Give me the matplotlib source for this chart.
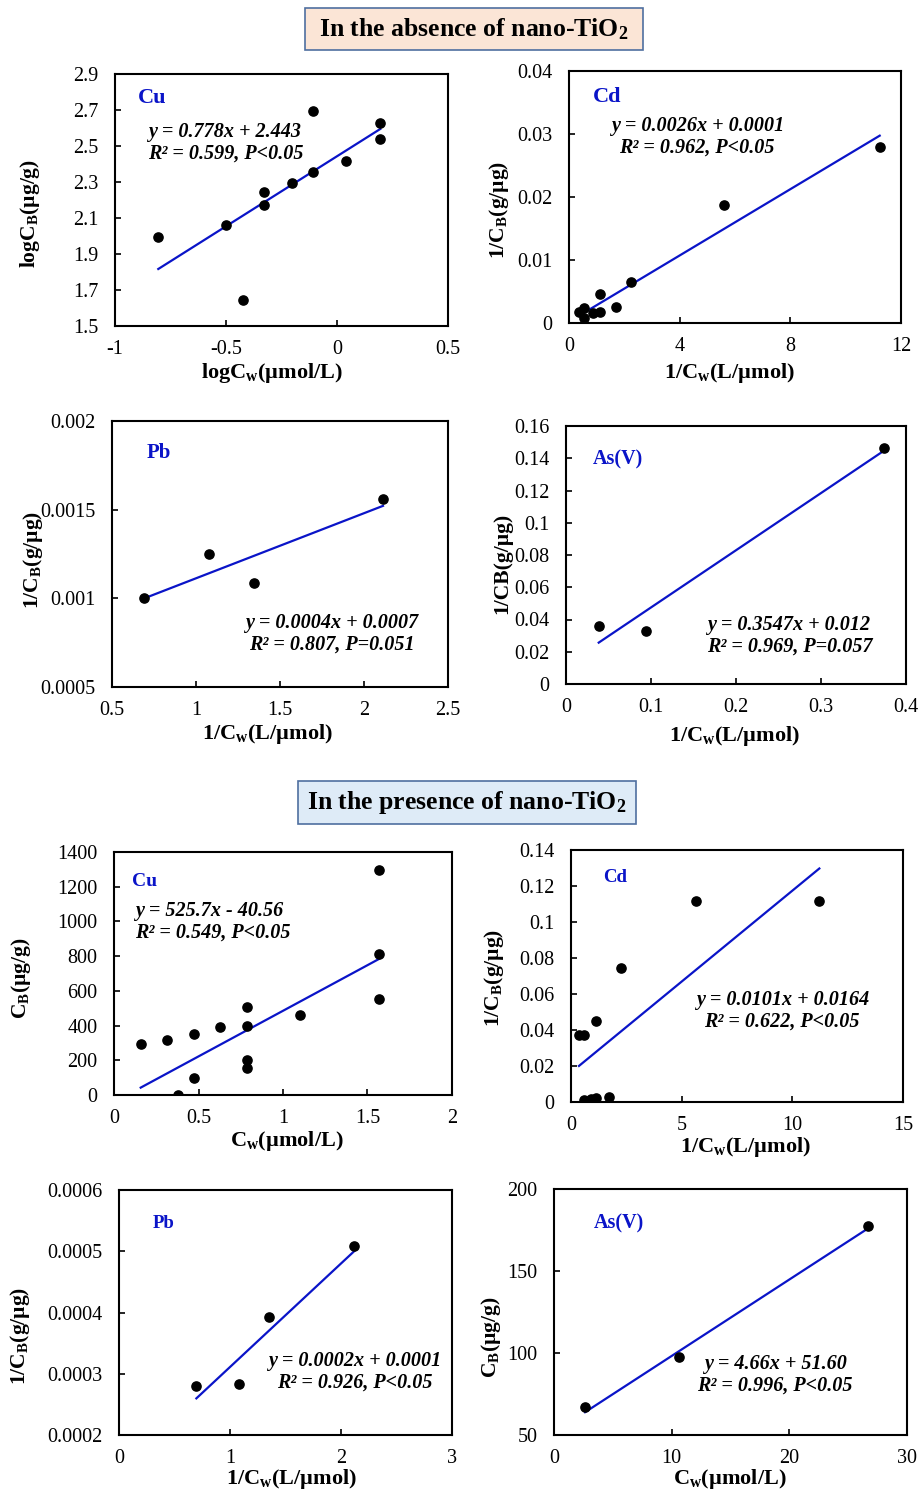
import matplotlib
matplotlib.use("Agg")
import matplotlib.pyplot as plt
import numpy as np
from matplotlib.patches import Rectangle

plt.rcParams['font.family'] = ['Liberation Serif', 'DejaVu Serif']
plt.rcParams['mathtext.fontset'] = 'custom'
plt.rcParams['mathtext.rm'] = 'Liberation Serif'
plt.rcParams['mathtext.bf'] = 'Liberation Serif:bold'
plt.rcParams['mathtext.it'] = 'Liberation Serif:italic'

# ---------------- data ----------------
# Absence of nano-TiO2
cu_abs_x = [-0.805, -0.502, -0.424, -0.328, -0.328, -0.202, -0.106, -0.106, 0.040, 0.195, 0.195]
cu_abs_y = [1.995, 2.062, 1.645, 2.244, 2.173, 2.292, 2.694, 2.353, 2.418, 2.629, 2.537]
cd_abs_x = [11.23, 5.61, 2.24, 1.13, 1.70, 1.13, 0.88, 0.55, 0.36, 0.55]
cd_abs_y = [0.0280, 0.0187, 0.0065, 0.0046, 0.0025, 0.00174, 0.0016, 0.0024, 0.0017, 0.0008]
pb_abs_x = [0.688, 1.077, 1.343, 2.113]
pb_abs_y = [0.0010, 0.001249, 0.001089, 0.001561]
as_abs_x = [0.0385, 0.0942, 0.3745]
as_abs_y = [0.0357, 0.0330, 0.1466]
# Presence of nano-TiO2
cu_pre_x = [0.158, 0.316, 0.473, 0.473, 0.381, 0.629, 0.785, 0.785, 0.785, 0.785, 1.099, 1.568, 1.568, 1.568]
cu_pre_y = [293, 318, 350, 100, 0, 389, 509, 400, 203, 153, 462, 1297, 814, 554]
cd_pre_x = [0.36, 0.60, 1.13, 2.24, 5.63, 11.22, 0.60, 0.90, 1.13, 1.73]
cd_pre_y = [0.0374, 0.0374, 0.0448, 0.0745, 0.1117, 0.1117, 0.0009, 0.0015, 0.0020, 0.0026]
pb_pre_x = [0.697, 1.081, 1.348, 2.12]
pb_pre_y = [0.00028, 0.000284, 0.000392, 0.000508]
as_pre_x = [2.64, 10.63, 26.65]
as_pre_y = [66.9, 97.6, 177.2]

# trend-line coefficients (slope, intercept) as drawn
fit_slopes = [0.778, 0.00263, 0.000367, 0.3547, 525.7, 0.0101, 0.000169, 4.66]
fit_intercepts = [2.443, 0.0002, 0.000746, 0.012, -40.56, 0.0164, 0.000142, 51.60]

element_labels = ['Cu', 'Cd', 'Pb', 'As(V)', 'Cu', 'Cd', 'Pb', 'As(V)']
eq_line1 = ['y = 0.778x + 2.443', 'y = 0.0026x + 0.0001', 'y = 0.0004x + 0.0007',
            'y = 0.3547x + 0.012', 'y = 525.7x - 40.56', 'y = 0.0101x + 0.0164',
            'y = 0.0002x + 0.0001', 'y = 4.66x + 51.60']
eq_line2 = ['R² = 0.599, P<0.05', 'R² = 0.962, P<0.05', 'R² = 0.807, P=0.051',
            'R² = 0.969, P=0.057', 'R² = 0.549, P<0.05', 'R² = 0.622, P<0.05',
            'R² = 0.926, P<0.05', 'R² = 0.996, P<0.05']
xlabels = [r'log$\mathbf{C_w}$(µmol/L)', r'1/$\mathbf{C_w}$(L/µmol)', r'1/$\mathbf{C_w}$(L/µmol)',
           r'1/$\mathbf{C_w}$(L/µmol)', r'$\mathbf{C_w}$(µmol/L)', r'1/$\mathbf{C_w}$(L/µmol)',
           r'1/$\mathbf{C_w}$(L/µmol)', r'$\mathbf{C_w}$(µmol/L)']
ylabels = [r'log$\mathbf{C_B}$(µg/g)', r'1/$\mathbf{C_B}$(g/µg)', r'1/$\mathbf{C_B}$(g/µg)',
           '1/CB(g/µg)', r'$\mathbf{C_B}$(µg/g)', r'1/$\mathbf{C_B}$(g/µg)',
           r'1/$\mathbf{C_B}$(g/µg)', r'$\mathbf{C_B}$(µg/g)']
xticks_list = [[-1, -0.5, 0, 0.5], [0, 4, 8, 12], [0.5, 1, 1.5, 2, 2.5], [0, 0.1, 0.2, 0.3, 0.4],
               [0, 0.5, 1, 1.5, 2], [0, 5, 10, 15], [0, 1, 2, 3], [0, 10, 20, 30]]
xticklabels_list = [['-1', '-0.5', '0', '0.5'], ['0', '4', '8', '12'], ['0.5', '1', '1.5', '2', '2.5'],
                    ['0', '0.1', '0.2', '0.3', '0.4'], ['0', '0.5', '1', '1.5', '2'],
                    ['0', '5', '10', '15'], ['0', '1', '2', '3'], ['0', '10', '20', '30']]
yticks_list = [[1.5, 1.7, 1.9, 2.1, 2.3, 2.5, 2.7, 2.9], [0, 0.01, 0.02, 0.03, 0.04],
               [0.0005, 0.001, 0.0015, 0.002], [0, 0.02, 0.04, 0.06, 0.08, 0.1, 0.12, 0.14, 0.16],
               [0, 200, 400, 600, 800, 1000, 1200, 1400], [0, 0.02, 0.04, 0.06, 0.08, 0.1, 0.12, 0.14],
               [0.0002, 0.0003, 0.0004, 0.0005, 0.0006], [50, 100, 150, 200]]
yticklabels_list = [['1.5', '1.7', '1.9', '2.1', '2.3', '2.5', '2.7', '2.9'],
                    ['0', '0.01', '0.02', '0.03', '0.04'],
                    ['0.0005', '0.001', '0.0015', '0.002'],
                    ['0', '0.02', '0.04', '0.06', '0.08', '0.1', '0.12', '0.14', '0.16'],
                    ['0', '200', '400', '600', '800', '1000', '1200', '1400'],
                    ['0', '0.02', '0.04', '0.06', '0.08', '0.1', '0.12', '0.14'],
                    ['0.0002', '0.0003', '0.0004', '0.0005', '0.0006'],
                    ['50', '100', '150', '200']]

xs = [cu_abs_x, cd_abs_x, pb_abs_x, as_abs_x, cu_pre_x, cd_pre_x, pb_pre_x, as_pre_x]
ys = [cu_abs_y, cd_abs_y, pb_abs_y, as_abs_y, cu_pre_y, cd_pre_y, pb_pre_y, as_pre_y]

# ---------------- layout ----------------
W, H = 919, 1492
fig = plt.figure(figsize=(W / 100, H / 100), dpi=100)

# axes boxes in pixels (left, top, right, bottom)
boxes = [(115, 74, 448, 326), (569, 71, 901, 323), (112, 421, 448, 687), (566, 426, 906, 684),
         (114, 852, 452, 1095), (571, 850, 903, 1102), (119, 1190, 452, 1435), (554, 1189, 907, 1435)]
# axis-label centres in pixels
xlab_pos = [(272, 373), (729, 373), (267, 734), (734, 736), (287, 1141), (745, 1147), (291, 1479), (730, 1479)]
ylab_pos = [(30, 214), (499, 210), (33, 560), (502, 563), (21, 978), (494, 978), (20, 1336), (491, 1337)]
# label positions (axes fraction)
elem_pos = [(0.069, 0.905), (0.072, 0.897), (0.104, 0.88), (0.079, 0.872),
            (0.053, 0.877), (0.096, 0.889), (0.102, 0.865), (0.113, 0.858)]
elem_size = [16, 16, 15, 14.5, 14, 13.5, 13.5, 14.5]
eq_pos = [(0.099, 0.728, 'left'), (0.386, 0.74, 'center'), (0.655, 0.201, 'center'), (0.415, 0.186, 'left'),
          (0.062, 0.714, 'left'), (0.636, 0.361, 'center'), (0.709, 0.259, 'center'), (0.626, 0.244, 'center')]

blue = '#0A14C8'
for i in range(8):
    l, t, r, b = boxes[i]
    ax = fig.add_axes([l / W, 1 - b / H, (r - l) / W, (b - t) / H])
    ax.scatter(xs[i], ys[i], s=44, color='black', zorder=3)
    xmin, xmax = min(xs[i]), max(xs[i])
    xl = np.array([xmin, xmax])
    ax.plot(xl, fit_slopes[i] * xl + fit_intercepts[i], color=blue, lw=1.6, zorder=2)
    ax.set_xlim(xticks_list[i][0], xticks_list[i][-1])
    ax.set_ylim(yticks_list[i][0], yticks_list[i][-1])
    ax.set_xticks(xticks_list[i])
    ax.set_xticklabels(xticklabels_list[i])
    ax.set_yticks(yticks_list[i])
    ax.set_yticklabels(yticklabels_list[i])
    ax.tick_params(direction='in', length=4, width=1.2, labelsize=14.5)
    ax.tick_params(axis='x', pad=10)
    ax.tick_params(axis='y', pad=12)
    for sp in ax.spines.values():
        sp.set_linewidth(1.5)
    ex, ey = elem_pos[i]
    ax.text(ex, ey, element_labels[i], transform=ax.transAxes, color=blue,
            fontsize=elem_size[i], fontweight='bold', va='center', ha='left')
    qx, qy, qa = eq_pos[i]
    ax.text(qx, qy, eq_line1[i] + '\n' + eq_line2[i], transform=ax.transAxes,
            fontsize=14.5, fontweight='bold', fontstyle='italic', ha=qa, va='center',
            multialignment=qa, linespacing=1.1)
    lx, ly = xlab_pos[i]
    fig.text(lx / W, 1 - ly / H, xlabels[i], ha='center', va='center',
             fontsize=16, fontweight='bold')
    yx, yy = ylab_pos[i]
    fig.text(yx / W, 1 - yy / H, ylabels[i], ha='center', va='center', rotation=90,
             fontsize=15.5, fontweight='bold')

# header boxes
def header(x0, y0, x1, y1, text, face, edge):
    rect = Rectangle((x0 / W, 1 - y1 / H), (x1 - x0) / W, (y1 - y0) / H,
                     transform=fig.transFigure, facecolor=face, edgecolor=edge, lw=1.2)
    fig.add_artist(rect)
    fig.text((x0 + x1) / 2 / W, 1 - (y0 + y1) / 2 / H, text, ha='center', va='center',
             fontsize=18.5, fontweight='bold')

header(305, 8, 643, 50, r'In the absence of nano-TiO$\mathbf{_2}$', '#FBE5D6', '#4F6FA0')
header(298, 781, 636, 824, r'In the presence of nano-TiO$\mathbf{_2}$', '#DEEBF7', '#4F6FA0')

fig.savefig('out.png', dpi=100)
